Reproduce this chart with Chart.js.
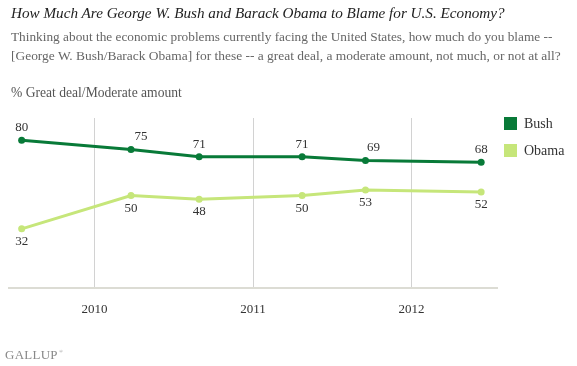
<!DOCTYPE html>
<html>
<head>
<meta charset="utf-8">
<script src="https://cdn.jsdelivr.net/npm/chart.js@4.4.1/dist/chart.umd.min.js"></script>
<style>
  html, body { margin: 0; padding: 0; background: #fff; }
  #wrap { position: relative; width: 577px; height: 366px; overflow: hidden; }
  #chart { position: absolute; left: 0; top: 0; }
  .t { position: absolute; white-space: nowrap; font-family: "Liberation Serif", serif; line-height: normal; }
  .sw { position: absolute; width: 13px; height: 13px; }
</style>
</head>
<body>
<div id="wrap">
  <canvas id="chart" width="577" height="366"></canvas>
  <div class="t" id="title" style="font-style:italic;color:#222" data-x="11" data-base="18" data-w="494" data-fs="15">How Much Are George W. Bush and Barack Obama to Blame for U.S. Economy?</div>
  <div class="t" style="color:#666" data-x="11" data-base="41" data-w="542" data-fs="13">Thinking about the economic problems currently facing the United States, how much do you blame --</div>
  <div class="t" style="color:#666" data-x="11" data-base="60" data-w="550" data-fs="13">[George W. Bush/Barack Obama] for these -- a great deal, a moderate amount, not much, or not at all?</div>
  <div class="t" style="color:#555" data-x="11" data-base="97" data-w="171" data-fs="13">% Great deal/Moderate amount</div>
  <div class="t" style="color:#888;letter-spacing:0.3px" data-x="5" data-base="359" data-w="53" data-fs="12">GALLUP</div>
  <div class="t" style="color:#888;font-size:5px;left:59px;top:349px">®</div>
  <div id="legend"></div>
</div>
<script>
// ---- data ----
const seriesNames = ['Bush', 'Obama'];
const surveyDates = [2009.54, 2010.23, 2010.66, 2011.31, 2011.71, 2012.44]; // decimal years
const bushValues = [80, 75, 71, 71, 69, 68];
const obamaValues = [32, 50, 48, 50, 53, 52];
const yearTicks = [2010, 2011, 2012];

// ---- style ----
const COLORS = ['#087a38', '#c6e67a'];
const X_MIN = 2009.46, X_MAX = 2012.54;
const Y_MIN = 0, Y_MAX = 92;
const bushLabelShift = [0, 10, 0, 0, 8, 0];
const obamaLabelShift = [0, 0, 0, 0, 0, 0];

// fit text blocks
document.querySelectorAll('.t[data-w]').forEach(el => {
  let fs = parseFloat(el.dataset.fs);
  el.style.fontSize = fs + 'px';
  const w = el.getBoundingClientRect().width;
  fs = fs * parseFloat(el.dataset.w) / w;
  el.style.fontSize = fs + 'px';
  el.style.left = el.dataset.x + 'px';
  el.style.top = (parseFloat(el.dataset.base) - 0.891 * fs) + 'px';
});

// legend
const legend = document.getElementById('legend');
seriesNames.forEach((name, i) => {
  const sw = document.createElement('div');
  sw.className = 'sw';
  sw.style.left = '504px';
  sw.style.top = (117 + i * 26.5) + 'px';
  sw.style.background = COLORS[i];
  legend.appendChild(sw);
  const tx = document.createElement('div');
  tx.className = 't';
  tx.textContent = name;
  tx.style.fontSize = '14px';
  tx.style.color = '#333';
  tx.style.left = '524px';
  tx.style.top = (128 + i * 27 - 0.891 * 14) + 'px';
  legend.appendChild(tx);
});

const valueLabels = {
  id: 'valueLabels',
  afterDatasetsDraw(chart) {
    const ctx = chart.ctx;
    ctx.save();
    ctx.font = '13px "Liberation Serif", serif';
    ctx.fillStyle = '#333';
    ctx.textAlign = 'center';
    ctx.textBaseline = 'middle';
    chart.data.datasets.forEach((ds, di) => {
      const meta = chart.getDatasetMeta(di);
      meta.data.forEach((pt, i) => {
        const dy = ds.labelPos === 'above' ? -12.5 : 12.5;
        ctx.fillText(String(ds.data[i].y), pt.x + ds.labelShift[i], pt.y + dy);
      });
    });
    ctx.restore();
  }
};

const makeData = vals => surveyDates.map((d, i) => ({ x: d, y: vals[i] }));

new Chart(document.getElementById('chart'), {
  type: 'line',
  data: {
    datasets: [
      { label: seriesNames[0], data: makeData(bushValues), borderColor: COLORS[0], backgroundColor: COLORS[0],
        borderWidth: 3, pointRadius: 3.5, pointBorderWidth: 0, pointBackgroundColor: COLORS[0],
        labelPos: 'above', labelShift: bushLabelShift },
      { label: seriesNames[1], data: makeData(obamaValues), borderColor: COLORS[1], backgroundColor: COLORS[1],
        borderWidth: 3, pointRadius: 3.5, pointBorderWidth: 0, pointBackgroundColor: COLORS[1],
        labelPos: 'below', labelShift: obamaLabelShift }
    ]
  },
  options: {
    responsive: false,
    animation: false,
    layout: { padding: { left: 9, right: 80, top: 118, bottom: 38 } },
    plugins: { legend: { display: false }, tooltip: { enabled: false }, title: { display: false } },
    scales: {
      x: {
        type: 'linear', min: X_MIN, max: X_MAX,
        afterBuildTicks: s => { s.ticks = yearTicks.map(v => ({ value: v })); },
        afterFit: s => { s.height = 40; },
        grid: { color: '#d2d2d2', lineWidth: 1, drawTicks: false },
        border: { display: true, color: '#dcdcd4', width: 2 },
        ticks: { padding: 14, color: '#333', font: { family: '"Liberation Serif", serif', size: 13 },
                 callback: v => String(v), maxRotation: 0, autoSkip: false }
      },
      y: { display: false, min: Y_MIN, max: Y_MAX }
    }
  },
  plugins: [valueLabels]
});
</script>
</body>
</html>
